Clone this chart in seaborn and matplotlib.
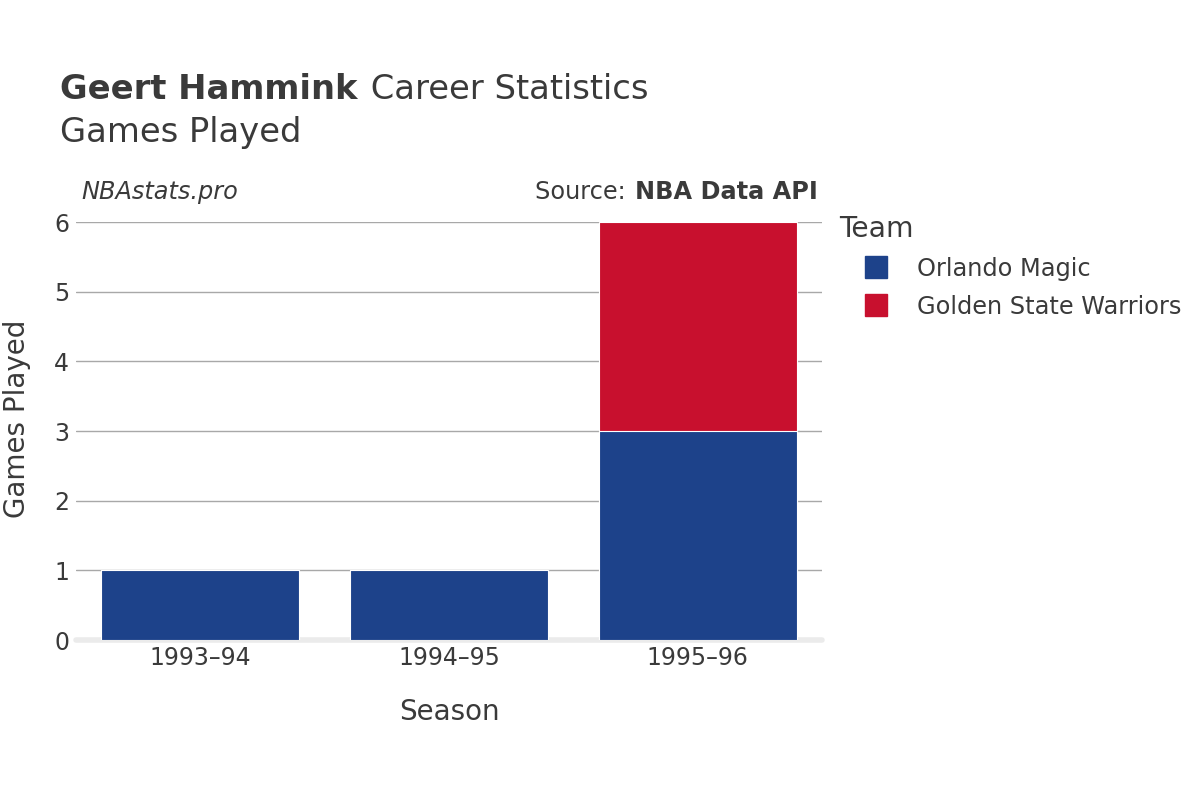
import matplotlib
matplotlib.use("Agg")
import matplotlib.pyplot as plt
from matplotlib.lines import Line2D
import seaborn as sns
import pandas as pd

seasons = ["1993–94", "1994–95", "1995–96"]
orlando = [1, 1, 3]
gsw = [0, 0, 3]
teams = ["Orlando Magic", "Golden State Warriors"]
team_colors = ["#1d428a", "#c8102e"]
yticks = [0, 1, 2, 3, 4, 5, 6]

sns.set_theme(style="white")
plt.rcParams["font.family"] = ["DejaVu Sans"]
TXT = "#3a3a3a"

totals = [a + b for a, b in zip(orlando, gsw)]
df = pd.DataFrame({"Season": seasons, "Orlando": orlando, "Total": totals})

fig = plt.figure(figsize=(12, 8), dpi=100)
ax = fig.add_axes([76 / 1200, 0.2, 746 / 1200, 0.5225])

for y in yticks[1:]:
    ax.axhline(y, color="#a8a8a8", lw=1, zorder=0)
ax.axhline(0, color="#ebebeb", lw=4, zorder=0, clip_on=False)

sns.barplot(data=df, x="Season", y="Total", color=team_colors[1], saturation=1,
            width=0.795, edgecolor="white", linewidth=0.8, ax=ax, zorder=2)
sns.barplot(data=df, x="Season", y="Orlando", color=team_colors[0], saturation=1,
            width=0.795, edgecolor="white", linewidth=0.8, ax=ax, zorder=3)

ax.set_xlim(-0.5, 2.5)
ax.set_ylim(0, 6)
ax.set_yticks(yticks)
ax.set_yticklabels([str(v) for v in yticks], fontsize=17, color=TXT)
ax.tick_params(axis="x", labelsize=17, colors=TXT, length=0, pad=4)
ax.tick_params(axis="y", length=0, pad=5)
for s in ax.spines.values():
    s.set_visible(False)
ax.set_xlabel("Season", fontsize=20, color=TXT)
ax.set_ylabel("Games Played", fontsize=20, color=TXT)
ax.xaxis.set_label_coords((449 - 76) / 746, -0.172)
ax.xaxis.label.set_va("center")
ax.yaxis.set_label_coords((17 - 76) / 746, 0.529)
ax.yaxis.label.set_va("center")

fig.canvas.draw()
r = fig.canvas.get_renderer()

t1 = fig.text(0.05, 0.888, "Geert Hammink", fontsize=24.3, fontweight="bold", color=TXT, va="center")
bb = t1.get_window_extent(renderer=r)
fig.text((bb.x1 + 2) / 1200, 0.888, " Career Statistics", fontsize=24.3, color=TXT, va="center")
fig.text(0.05, 0.834, "Games Played", fontsize=24.3, color=TXT, va="center")
fig.text(0.068, 0.76, "NBAstats.pro", fontsize=17.3, style="italic", color=TXT, va="center")
t2 = fig.text(818 / 1200, 0.76, "NBA Data API", fontsize=17.3, fontweight="bold", color=TXT, va="center", ha="right")
bb2 = t2.get_window_extent(renderer=r)
fig.text((bb2.x0 - 2) / 1200, 0.76, "Source: ", fontsize=17.3, color=TXT, va="center", ha="right")

handles = [Line2D([0], [0], marker="s", linestyle="none", markersize=16,
                  markerfacecolor=c, markeredgecolor=c) for c in team_colors]
leg = fig.legend(handles, teams, title="Team", loc="upper left",
                 bbox_to_anchor=(0.699, 0.731), frameon=False, fontsize=17.3,
                 title_fontsize=20.3, handlelength=3.1, handletextpad=0.15,
                 labelspacing=0.57, alignment="left", borderaxespad=0, borderpad=0)
for t in leg.get_texts():
    t.set_color(TXT)
leg.get_title().set_color(TXT)

fig.savefig("out.png", dpi=100, facecolor="white")
